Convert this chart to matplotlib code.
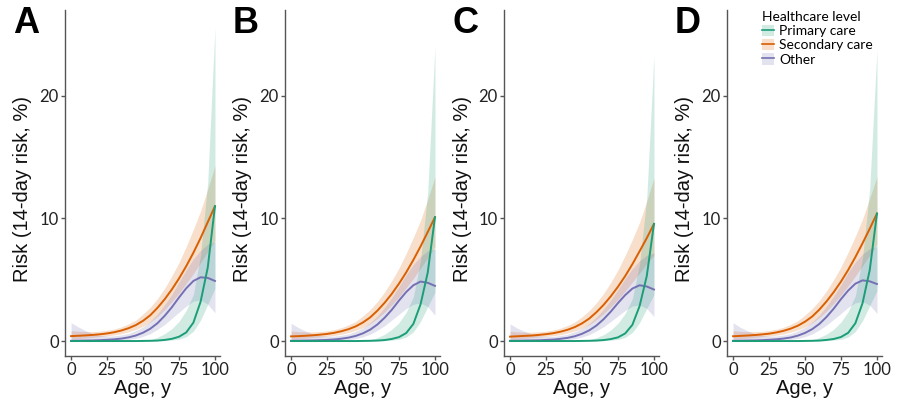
import matplotlib
matplotlib.use("Agg")
import matplotlib.pyplot as plt
from matplotlib.patches import Patch
from matplotlib.lines import Line2D

# ---------------- data ----------------
panels = ["A", "B", "C", "D"]
ages = [0, 5, 10, 15, 20, 25, 30, 35, 40, 45, 50, 55, 60, 65, 70, 75, 80, 85, 90, 95, 100]
series_names = ["Primary care", "Secondary care", "Other"]
series_colors = ["#1B9E77", "#D95F02", "#7570B3"]

# Primary care (per panel A-D)
primary_mid = [
    [0, 0, 0, 0, 0, 0, 0, 0, 0, 0, 0.01, 0.02, 0.04, 0.09, 0.18, 0.35, 0.70, 1.50, 3.20, 6.00, 11.0],
    [0, 0, 0, 0, 0, 0, 0, 0, 0, 0, 0.01, 0.02, 0.04, 0.08, 0.17, 0.32, 0.65, 1.40, 3.00, 5.60, 10.1],
    [0, 0, 0, 0, 0, 0, 0, 0, 0, 0, 0.01, 0.02, 0.04, 0.08, 0.16, 0.30, 0.62, 1.32, 2.85, 5.30, 9.55],
    [0, 0, 0, 0, 0, 0, 0, 0, 0, 0, 0.01, 0.02, 0.04, 0.09, 0.17, 0.33, 0.67, 1.45, 3.10, 5.80, 10.4],
]
primary_lo = [
    [0, 0, 0, 0, 0, 0, 0, 0, 0, 0, 0, 0, 0.01, 0.03, 0.08, 0.15, 0.35, 0.80, 1.70, 3.00, 4.3],
    [0, 0, 0, 0, 0, 0, 0, 0, 0, 0, 0, 0, 0.01, 0.03, 0.07, 0.14, 0.32, 0.75, 1.60, 2.80, 4.0],
    [0, 0, 0, 0, 0, 0, 0, 0, 0, 0, 0, 0, 0.01, 0.03, 0.07, 0.13, 0.30, 0.70, 1.50, 2.65, 3.8],
    [0, 0, 0, 0, 0, 0, 0, 0, 0, 0, 0, 0, 0.01, 0.03, 0.08, 0.14, 0.33, 0.78, 1.65, 2.90, 4.1],
]
primary_hi = [
    [0.02, 0.02, 0.02, 0.02, 0.02, 0.02, 0.02, 0.03, 0.03, 0.04, 0.05, 0.10, 0.30, 0.60, 1.00, 1.60, 2.50, 3.80, 7.00, 13.0, 25.6],
    [0.02, 0.02, 0.02, 0.02, 0.02, 0.02, 0.02, 0.03, 0.03, 0.04, 0.05, 0.10, 0.28, 0.55, 0.95, 1.50, 2.35, 3.60, 6.60, 12.2, 24.0],
    [0.02, 0.02, 0.02, 0.02, 0.02, 0.02, 0.02, 0.03, 0.03, 0.04, 0.05, 0.10, 0.27, 0.52, 0.90, 1.45, 2.25, 3.45, 6.30, 11.7, 23.3],
    [0.02, 0.02, 0.02, 0.02, 0.02, 0.02, 0.02, 0.03, 0.03, 0.04, 0.05, 0.10, 0.29, 0.57, 0.97, 1.55, 2.40, 3.70, 6.80, 12.5, 23.8],
]

# Secondary care
secondary_mid = [
    [0.40, 0.43, 0.46, 0.50, 0.55, 0.62, 0.72, 0.86, 1.05, 1.30, 1.65, 2.10, 2.70, 3.40, 4.20, 5.10, 6.10, 7.20, 8.40, 9.70, 11.0],
    [0.38, 0.40, 0.43, 0.47, 0.52, 0.58, 0.67, 0.80, 0.97, 1.20, 1.52, 1.93, 2.48, 3.12, 3.85, 4.68, 5.60, 6.62, 7.72, 8.90, 10.1],
    [0.36, 0.39, 0.42, 0.45, 0.50, 0.56, 0.64, 0.76, 0.92, 1.14, 1.44, 1.83, 2.35, 2.95, 3.65, 4.43, 5.30, 6.27, 7.32, 8.40, 9.55],
    [0.39, 0.42, 0.45, 0.49, 0.54, 0.60, 0.70, 0.83, 1.01, 1.25, 1.58, 2.00, 2.57, 3.24, 4.00, 4.85, 5.80, 6.85, 7.98, 9.17, 10.4],
]
secondary_lo = [
    [0.15, 0.20, 0.25, 0.30, 0.36, 0.42, 0.50, 0.60, 0.75, 0.95, 1.20, 1.55, 2.00, 2.55, 3.20, 3.90, 4.70, 5.50, 6.40, 7.30, 8.2],
    [0.14, 0.19, 0.23, 0.28, 0.33, 0.39, 0.46, 0.55, 0.69, 0.87, 1.10, 1.42, 1.84, 2.35, 2.95, 3.60, 4.35, 5.10, 5.95, 6.80, 7.7],
    [0.13, 0.18, 0.22, 0.27, 0.32, 0.37, 0.44, 0.52, 0.65, 0.82, 1.04, 1.34, 1.74, 2.22, 2.78, 3.40, 4.08, 4.80, 5.55, 6.30, 7.0],
    [0.15, 0.20, 0.24, 0.29, 0.35, 0.41, 0.48, 0.58, 0.72, 0.91, 1.15, 1.48, 1.92, 2.45, 3.07, 3.75, 4.50, 5.30, 6.15, 7.00, 7.9],
]
secondary_hi = [
    [0.85, 0.80, 0.78, 0.77, 0.80, 0.87, 0.98, 1.15, 1.40, 1.70, 2.20, 2.75, 3.45, 4.30, 5.30, 6.40, 7.70, 9.10, 10.6, 12.4, 14.3],
    [0.82, 0.77, 0.75, 0.74, 0.77, 0.83, 0.93, 1.09, 1.32, 1.60, 2.05, 2.57, 3.22, 4.00, 4.93, 5.95, 7.15, 8.45, 9.85, 11.55, 13.4],
    [0.80, 0.75, 0.73, 0.72, 0.75, 0.80, 0.90, 1.05, 1.27, 1.55, 1.98, 2.48, 3.12, 3.88, 4.78, 5.80, 6.98, 8.28, 9.68, 11.4, 13.3],
    [0.84, 0.79, 0.77, 0.76, 0.79, 0.85, 0.96, 1.12, 1.36, 1.65, 2.12, 2.64, 3.30, 4.10, 5.02, 6.05, 7.25, 8.55, 9.95, 11.65, 13.4],
]

# Other
other_mid = [
    [0.02, 0.03, 0.04, 0.05, 0.07, 0.10, 0.14, 0.20, 0.30, 0.45, 0.68, 1.00, 1.45, 2.05, 2.75, 3.55, 4.30, 4.90, 5.20, 5.15, 4.90],
    [0.02, 0.03, 0.04, 0.05, 0.07, 0.09, 0.13, 0.19, 0.28, 0.42, 0.63, 0.93, 1.35, 1.90, 2.55, 3.30, 4.00, 4.55, 4.85, 4.75, 4.50],
    [0.02, 0.03, 0.04, 0.05, 0.06, 0.09, 0.12, 0.18, 0.26, 0.39, 0.59, 0.87, 1.26, 1.78, 2.40, 3.10, 3.75, 4.28, 4.55, 4.45, 4.20],
    [0.02, 0.03, 0.04, 0.05, 0.07, 0.10, 0.14, 0.20, 0.29, 0.44, 0.66, 0.97, 1.40, 1.97, 2.65, 3.42, 4.12, 4.68, 4.95, 4.87, 4.65],
]
other_lo = [
    [0, 0, 0, 0, 0, 0.01, 0.03, 0.06, 0.12, 0.22, 0.38, 0.60, 0.95, 1.35, 1.85, 2.35, 2.85, 3.25, 3.35, 3.00, 2.30],
    [0, 0, 0, 0, 0, 0.01, 0.03, 0.06, 0.11, 0.20, 0.35, 0.56, 0.88, 1.25, 1.72, 2.18, 2.65, 3.00, 3.10, 2.80, 2.10],
    [0, 0, 0, 0, 0, 0.01, 0.03, 0.05, 0.10, 0.19, 0.33, 0.52, 0.82, 1.17, 1.60, 2.05, 2.50, 2.85, 2.95, 2.65, 2.00],
    [0, 0, 0, 0, 0, 0.01, 0.03, 0.06, 0.12, 0.21, 0.37, 0.58, 0.92, 1.30, 1.78, 2.25, 2.75, 3.12, 3.22, 2.92, 2.25],
]
other_hi = [
    [1.50, 1.15, 0.85, 0.60, 0.45, 0.40, 0.42, 0.50, 0.62, 0.85, 1.15, 1.60, 2.20, 2.95, 3.80, 4.80, 5.80, 6.70, 7.40, 7.90, 8.10],
    [1.45, 1.10, 0.82, 0.58, 0.44, 0.39, 0.40, 0.47, 0.58, 0.80, 1.08, 1.50, 2.05, 2.75, 3.55, 4.45, 5.40, 6.25, 6.90, 7.35, 7.50],
    [1.40, 1.05, 0.80, 0.56, 0.42, 0.37, 0.38, 0.45, 0.55, 0.76, 1.03, 1.42, 1.95, 2.60, 3.35, 4.20, 5.10, 5.90, 6.55, 7.00, 7.20],
    [1.50, 1.12, 0.84, 0.60, 0.45, 0.40, 0.41, 0.49, 0.60, 0.83, 1.12, 1.55, 2.12, 2.85, 3.68, 4.60, 5.60, 6.45, 7.10, 7.55, 7.70],
]

x_ticks = [0, 25, 50, 75, 100]
y_ticks = [0, 10, 20]
x_label = "Age, y"
y_label = "Risk (14-day risk, %)"
legend_title = "Healthcare level"

# ---------------- figure ----------------
W, H = 900, 407
fig = plt.figure(figsize=(W / 100, H / 100), dpi=100)

spine_px = [65, 285, 504, 727]
ax_w, ax_top, ax_bot = 155, 10, 356
tick_font = "Lato"
title_font = "Liberation Sans"
spine_col = "#555555"

mids = [primary_mid, secondary_mid, other_mid]
los = [primary_lo, secondary_lo, other_lo]
his = [primary_hi, secondary_hi, other_hi]
order = [1, 2, 0]

for p, name in enumerate(panels):
    left = spine_px[p]
    ax = fig.add_axes([left / W, (H - ax_bot) / H, ax_w / W, (ax_bot - ax_top) / H])
    for s in order:
        ax.fill_between(ages, los[s][p], his[s][p], color=series_colors[s], alpha=0.2,
                        linewidth=0)
    for s in order:
        ax.plot(ages, mids[s][p], color=series_colors[s], lw=1.4)
    ax.set_xlim(-4.2, 103.5)
    ax.set_ylim(-1.22, 27.0)
    ax.set_xticks(x_ticks)
    ax.set_yticks(y_ticks)
    for sp in ["top", "right"]:
        ax.spines[sp].set_visible(False)
    for sp in ["left", "bottom"]:
        ax.spines[sp].set_color(spine_col)
        ax.spines[sp].set_linewidth(1.0)
    ax.tick_params(axis="both", length=3, width=1.0, color=spine_col, pad=1.5,
                   labelsize=12, labelcolor="#222222")
    for lab in ax.get_xticklabels() + ax.get_yticklabels():
        lab.set_fontfamily(tick_font)
    ax.set_xlabel(x_label, fontsize=14.5, family=title_font, color="#111111")
    ax.set_ylabel(y_label, fontsize=14.5, family=title_font, color="#111111")
    ax.xaxis.set_label_coords(0.5, (ax_bot - 379) / (ax_bot - ax_top))
    ax.yaxis.set_label_coords(-42 / ax_w, (ax_bot - 189) / (ax_bot - ax_top))
    ax.yaxis.label.set_va("center")
    ax.xaxis.label.set_va("top")
    fig.text((left - 52) / W, 1 - 6 / H, name, fontsize=26, fontweight="bold",
             family=title_font, ha="left", va="top")

    if p == 3:
        handles = [(Patch(facecolor=c, alpha=0.2, edgecolor="none"),
                    Line2D([], [], color=c, lw=1.2)) for c in series_colors]
        leg = ax.legend(handles, series_names, title=legend_title,
                        loc="upper left", bbox_to_anchor=((759 - left) / ax_w, 1.005),
                        frameon=False, handlelength=0.9, handleheight=0.9,
                        handletextpad=0.35, labelspacing=0.12, borderpad=0.2,
                        borderaxespad=0, prop={"family": tick_font, "size": 10},
                        alignment="left")
        leg.get_title().set_fontfamily(tick_font)
        leg.get_title().set_fontsize(10)

fig.savefig("out.png", dpi=100)
